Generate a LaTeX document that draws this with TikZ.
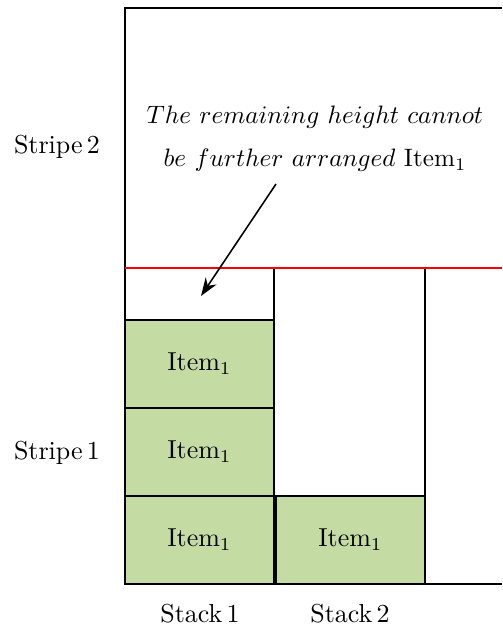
\documentclass[tikz,border=0pt]{standalone}
\usetikzlibrary{arrows.meta}
\definecolor{itemgreen}{RGB}{196,220,163}
\def\u{0.385pt}
\tikzset{
  frame/.style={draw=black, line width=0.6pt},
  itembox/.style={draw=black, line width=0.6pt, fill=itemgreen, rectangle, inner sep=0pt,
    minimum width={149*\u}, minimum height={88*\u}},
  lbl/.style={inner sep=0pt},
}
\begin{document}
\begin{tikzpicture}[x=\u, y=-\u]
\useasboundingbox (0,0) rectangle (502,632);
% items
\node[itembox] (i13) at (199.5,364) {Item$_1$};
\node[itembox] (i12) at (199.5,452) {Item$_1$};
\node[itembox] (i11) at (199.5,540) {Item$_1$};
\node[itembox, minimum width={149*\u}] (i21) at (350.5,540) {Item$_1$};
% frame and stacks
\draw[frame] (502,8) -- (125,8) -- (125,584) -- (502,584);
\draw[frame] (125,320) -- (274,320);
\draw[frame] (274,268) -- (274,584);
\draw[frame] (275,496) -- (425,496);
\draw[frame] (425,268) -- (425,584);
\draw[red, line width=0.6pt] (125,268) -- (502,268);
% labels
\node[lbl] (s2) at (57,147) {Stripe\,2};
\node[lbl] (s1) at (57,453) {Stripe\,1};
\node[lbl] (k1) at (200,614) {Stack\,1};
\node[lbl] (k2) at (350,614) {Stack\,2};
\node[lbl, align=center, scale=0.97] (note) at (315,139) {$The\ remaining\ height\ cannot$\\[5pt] $be\ further\ arranged$\ Item$_1$};
\coordinate (as) at (276,184);
\coordinate (ae) at (201,296);
\draw[-{Stealth[length=7pt,width=5pt]}, line width=0.6pt] (as) -- (ae);
\end{tikzpicture}
\end{document}
